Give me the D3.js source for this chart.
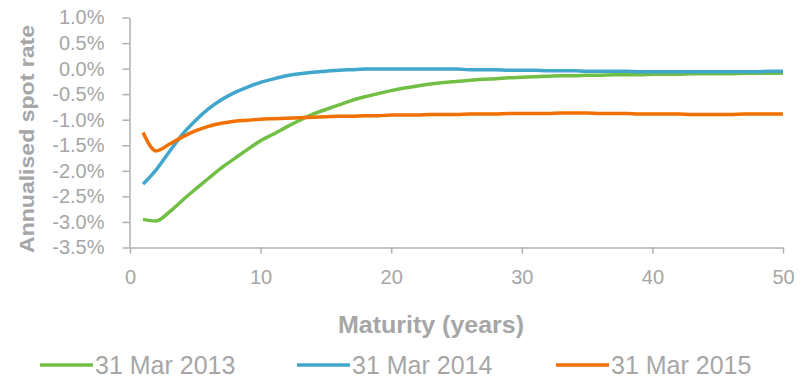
<!DOCTYPE html>
<html>
<head>
<meta charset="utf-8">
<script src="https://cdn.jsdelivr.net/npm/d3@7/dist/d3.min.js"></script>
<style>
  html, body { margin: 0; padding: 0; background: #ffffff; }
  svg { display: block; font-family: "Liberation Sans", Arial, sans-serif; }
</style>
</head>
<body>
<svg id="chart" width="801" height="377"></svg>
<script>
// Maturity in years (1..50)
const maturities = d3.range(1, 51);

// Annualised spot rates (%) by maturity
const rates2013 = [
  -2.95, -2.98, -2.81, -2.58, -2.36, -2.15, -1.94, -1.76, -1.58, -1.41,
  -1.28, -1.14, -1.01, -0.89, -0.80, -0.71, -0.62, -0.55, -0.49, -0.43,
  -0.38, -0.34, -0.30, -0.27, -0.25, -0.23, -0.21, -0.20, -0.18, -0.17,
  -0.16, -0.15, -0.14, -0.14, -0.13, -0.13, -0.12, -0.12, -0.12, -0.11,
  -0.11, -0.11, -0.10, -0.10, -0.10, -0.10, -0.09, -0.09, -0.09, -0.09
];
const rates2014 = [
  -2.26, -1.98, -1.63, -1.29, -1.02, -0.79, -0.61, -0.47, -0.36, -0.27,
  -0.20, -0.14, -0.10, -0.07, -0.05, -0.03, -0.02, -0.01, -0.01, -0.01,
  -0.01, -0.01, -0.01, -0.01, -0.01, -0.02, -0.02, -0.02, -0.03, -0.03,
  -0.03, -0.04, -0.04, -0.04, -0.05, -0.05, -0.05, -0.05, -0.06, -0.06,
  -0.06, -0.06, -0.06, -0.06, -0.06, -0.06, -0.06, -0.06, -0.05, -0.05
];
const rates2015 = [
  -1.25, -1.61, -1.48, -1.34, -1.22, -1.13, -1.07, -1.03, -1.01, -0.99,
  -0.98, -0.97, -0.96, -0.95, -0.94, -0.93, -0.93, -0.92, -0.92, -0.91,
  -0.91, -0.91, -0.90, -0.90, -0.90, -0.89, -0.89, -0.89, -0.88, -0.88,
  -0.88, -0.88, -0.87, -0.87, -0.87, -0.88, -0.88, -0.88, -0.89, -0.89,
  -0.89, -0.89, -0.90, -0.90, -0.90, -0.90, -0.89, -0.89, -0.89, -0.89
];

const seriesNames = ["31 Mar 2013", "31 Mar 2014", "31 Mar 2015"];
const seriesColors = ["#71bf44", "#41a6cc", "#f27000"];
const xTicks = [0, 10, 20, 30, 40, 50];
const yTicks = [1.0, 0.5, 0.0, -0.5, -1.0, -1.5, -2.0, -2.5, -3.0, -3.5];

const series = [rates2013, rates2014, rates2015].map((vals, i) => ({
  name: seriesNames[i],
  color: seriesColors[i],
  points: maturities.map((m, j) => ({ m, r: vals[j] }))
}));

const svg = d3.select("#chart");
const axisColor = "#b0b0b0";
const textColor = "#a6a6a6";

const x = d3.scaleLinear().domain([0, 50]).range([130, 783]);
const y = d3.scaleLinear().domain([-3.5, 1.0]).range([247.5, 17.5]);

// Y axis
const yAxis = svg.append("g")
  .attr("transform", "translate(129.5,0)")
  .call(d3.axisLeft(y)
    .tickValues(yTicks)
    .tickSizeInner(7)
    .tickSizeOuter(0)
    .tickPadding(18)
    .tickFormat(d => d.toFixed(1) + "%"));

// X axis
const xAxis = svg.append("g")
  .attr("transform", "translate(0,247.5)")
  .call(d3.axisBottom(x)
    .tickValues(xTicks)
    .tickSizeInner(6)
    .tickSizeOuter(0)
    .tickPadding(16)
    .tickFormat(d3.format("d")));

[yAxis, xAxis].forEach(g => {
  g.select(".domain").attr("stroke", axisColor).attr("stroke-width", 1.5);
  g.selectAll(".tick line").attr("stroke", axisColor).attr("stroke-width", 1.5);
  g.selectAll(".tick text")
    .attr("fill", textColor)
    .attr("font-size", 20)
    .attr("font-family", "'Liberation Sans', Arial, sans-serif");
});

// Curves
const line = d3.line()
  .x(d => x(d.m))
  .y(d => y(d.r))
  .curve(d3.curveMonotoneX);

svg.append("g")
  .selectAll("path")
  .data(series)
  .join("path")
  .attr("d", d => line(d.points))
  .attr("fill", "none")
  .attr("stroke", d => d.color)
  .attr("stroke-width", 3.5)
  .attr("stroke-linejoin", "round")
  .attr("stroke-linecap", "butt");

// Axis titles
svg.append("text")
  .attr("transform", "translate(34,139) rotate(-90)")
  .attr("text-anchor", "middle")
  .attr("font-weight", "bold")
  .attr("font-size", 21)
  .attr("fill", textColor)
  .attr("textLength", 228)
  .attr("lengthAdjust", "spacingAndGlyphs")
  .text("Annualised spot rate");

svg.append("text")
  .attr("x", 431)
  .attr("y", 333)
  .attr("text-anchor", "middle")
  .attr("font-weight", "bold")
  .attr("font-size", 24)
  .attr("fill", textColor)
  .attr("textLength", 186)
  .attr("lengthAdjust", "spacingAndGlyphs")
  .text("Maturity (years)");

// Legend
const legendX = [40, 297, 556];
const legend = svg.append("g")
  .selectAll("g")
  .data(series)
  .join("g")
  .attr("transform", (d, i) => `translate(${legendX[i]},365)`);

legend.append("line")
  .attr("x1", 0).attr("x2", 53)
  .attr("y1", 0).attr("y2", 0)
  .attr("stroke", d => d.color)
  .attr("stroke-width", 3.5);

legend.append("text")
  .attr("x", 55)
  .attr("y", 8.5)
  .attr("font-size", 25)
  .attr("fill", textColor)
  .text(d => d.name);
</script>
</body>
</html>
